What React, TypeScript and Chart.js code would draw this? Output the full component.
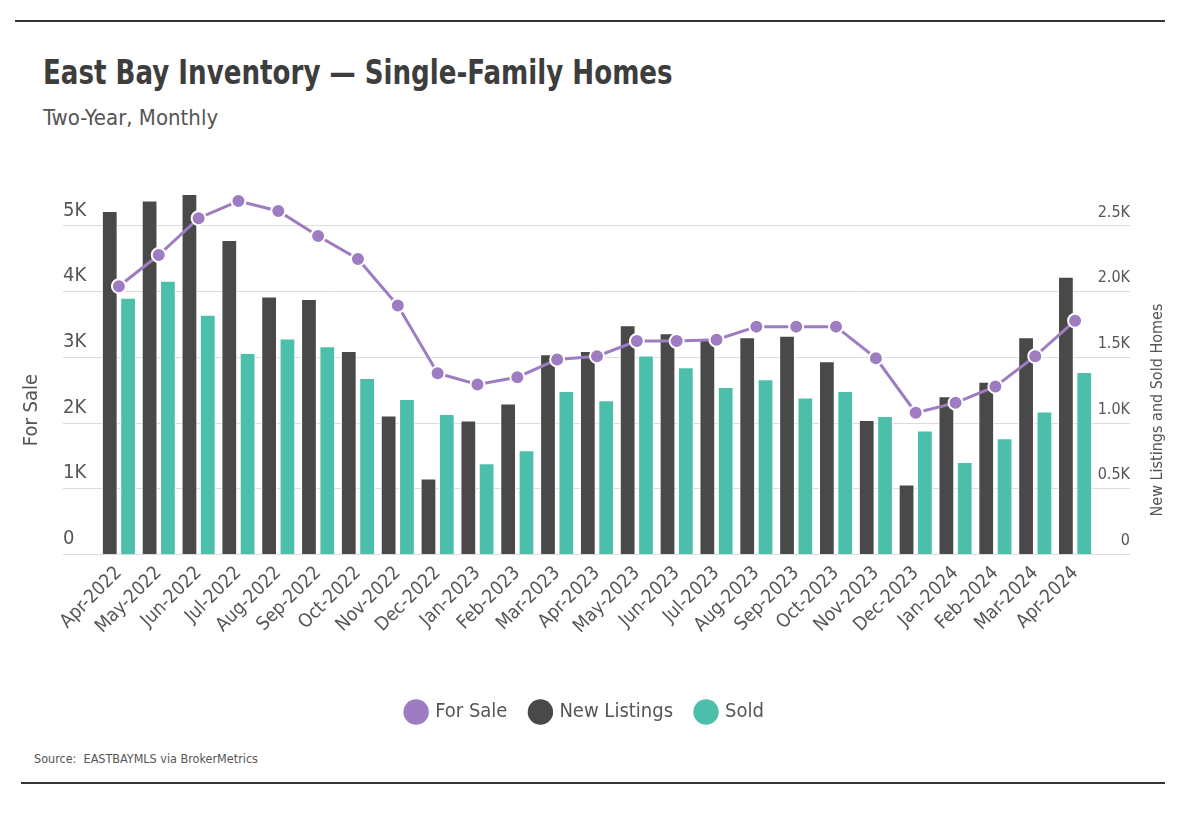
import React, { useEffect, useRef } from "react";
import { Chart, registerables } from "chart.js";

Chart.register(...registerables);

const months = [
  "Apr-2022", "May-2022", "Jun-2022", "Jul-2022", "Aug-2022", "Sep-2022", "Oct-2022", "Nov-2022", "Dec-2022",
  "Jan-2023", "Feb-2023", "Mar-2023", "Apr-2023", "May-2023", "Jun-2023", "Jul-2023", "Aug-2023", "Sep-2023",
  "Oct-2023", "Nov-2023", "Dec-2023", "Jan-2024", "Feb-2024", "Mar-2024", "Apr-2024",
];

const forSale = [4075, 4550, 5110, 5370, 5220, 4840, 4490, 3780, 2750, 2580, 2690, 2960, 3010, 3240, 3240, 3260, 3460, 3460, 3460, 2980, 2150, 2300, 2550, 3010, 3550];
const newListings = [2610, 2690, 2740, 2390, 1960, 1940, 1545, 1054, 574, 1016, 1146, 1520, 1545, 1740, 1680, 1630, 1650, 1660, 1466, 1020, 528, 1200, 1310, 1650, 2110];
const sold = [1950, 2080, 1820, 1530, 1640, 1580, 1340, 1180, 1065, 690, 790, 1240, 1170, 1510, 1420, 1270, 1330, 1190, 1240, 1050, 940, 700, 880, 1085, 1385];

const leftTicks = [0, 1000, 2000, 3000, 4000, 5000];
const rightTicks = [0, 500, 1000, 1500, 2000, 2500];

const leftTitle = "For Sale";
const rightTitle = "New Listings and Sold Homes";

const FONT = "'DejaVu Sans Condensed', 'Liberation Sans Narrow', Roboto, sans-serif";
const PURPLE = "#9e7cc1";
const DARK = "#494949";
const TEAL = "#4cbfab";
const GRID = "#dcdcdc";
const TEXT = "#555555";

const extrasPlugin = {
  id: "extras",
  afterLayout(chart: any) {
    const lg = chart.legend;
    if (lg) {
      lg.left -= 11;
      lg.right -= 11;
    }
  },
  beforeDatasetsDraw(chart: any) {
    const { ctx } = chart;
    const yL = chart.scales.yL;
    const yR = chart.scales.yR;
    ctx.save();
    ctx.strokeStyle = GRID;
    ctx.lineWidth = 1;
    yL.ticks.forEach((t: any) => {
      const y = Math.round(yL.getPixelForValue(t.value)) + 0.5;
      ctx.beginPath();
      ctx.moveTo(yL.left, y);
      ctx.lineTo(yR.right, y);
      ctx.stroke();
    });
    ctx.restore();
  },
  afterDraw(chart: any) {
    const { ctx, chartArea } = chart;
    const cy = (chartArea.top + chartArea.bottom) / 2 + 40;
    ctx.save();
    ctx.fillStyle = TEXT;
    ctx.textAlign = "center";
    ctx.textBaseline = "middle";
    ctx.font = `20px ${FONT}`;
    ctx.translate(32, cy);
    ctx.rotate(-Math.PI / 2);
    ctx.fillText(leftTitle, 0, 0);
    ctx.restore();
    ctx.save();
    ctx.fillStyle = TEXT;
    ctx.textAlign = "center";
    ctx.textBaseline = "middle";
    ctx.font = `16px ${FONT}`;
    ctx.translate(1158, cy);
    ctx.rotate(-Math.PI / 2);
    ctx.fillText(rightTitle, 0, 0);
    ctx.restore();
  },
};

export default function App() {
  const ref = useRef<HTMLCanvasElement | null>(null);

  useEffect(() => {
    if (!ref.current) return;
    const colors = [PURPLE, DARK, TEAL];
    const chart = new Chart(ref.current, {
      type: "bar",
      data: {
        labels: months,
        datasets: [
          {
            type: "line",
            label: "For Sale",
            data: forSale,
            yAxisID: "yL",
            borderColor: PURPLE,
            backgroundColor: PURPLE,
            borderWidth: 3,
            pointRadius: 7,
            pointBorderWidth: 2,
            pointBorderColor: "#ffffff",
            pointBackgroundColor: PURPLE,
            tension: 0,
          } as any,
          {
            type: "bar",
            label: "New Listings",
            data: newListings,
            yAxisID: "yR",
            backgroundColor: DARK,
            borderColor: "#ffffff",
            borderWidth: 1,
            categoryPercentage: 0.92,
            barPercentage: 0.86,
          },
          {
            type: "bar",
            label: "Sold",
            data: sold,
            yAxisID: "yR",
            backgroundColor: TEAL,
            borderColor: "#ffffff",
            borderWidth: 1,
            categoryPercentage: 0.92,
            barPercentage: 0.86,
          },
        ],
      },
      options: {
        responsive: true,
        maintainAspectRatio: false,
        animation: false,
        layout: { padding: { left: 63, right: 61, top: 36, bottom: 18 } },
        plugins: {
          tooltip: { enabled: false },
          legend: {
            position: "bottom",
            labels: {
              usePointStyle: true,
              pointStyle: "circle",
              boxWidth: 18,
              boxHeight: 18,
              padding: 24,
              color: TEXT,
              font: { family: FONT, size: 20 },
              generateLabels: (c: any) =>
                c.data.datasets.map((ds: any, i: number) => ({
                  text: ds.label,
                  fillStyle: colors[i],
                  strokeStyle: colors[i],
                  lineWidth: 0,
                  pointStyle: "circle",
                  hidden: false,
                  datasetIndex: i,
                  fontColor: TEXT,
                })),
            },
          },
        },
        scales: {
          x: {
            grid: { display: false },
            border: { display: false },
            ticks: {
              autoSkip: false,
              maxRotation: 45,
              minRotation: 45,
              padding: 0,
              color: TEXT,
              font: { family: FONT, size: 19 },
            },
            afterFit: (s: any) => {
              s.height = 124;
            },
          },
          yL: {
            position: "left",
            min: 0,
            max: 5600,
            grid: { display: false },
            border: { display: false },
            afterBuildTicks: (s: any) => {
              s.ticks = leftTicks.map((v) => ({ value: v }));
            },
            ticks: {
              crossAlign: "far",
              labelOffset: -15,
              padding: 0,
              color: TEXT,
              font: { family: FONT, size: 20 },
              callback: (v: any) => (v === 0 ? "0" : `${v / 1000}K`),
            },
            afterFit: (s: any) => {
              s.width = 36;
            },
          },
          yR: {
            position: "right",
            min: 0,
            max: 2800,
            grid: { display: false },
            border: { display: false },
            afterBuildTicks: (s: any) => {
              s.ticks = rightTicks.map((v) => ({ value: v }));
            },
            ticks: {
              crossAlign: "far",
              labelOffset: -13,
              padding: 0,
              color: TEXT,
              font: { family: FONT, size: 16 },
              callback: (v: any) => (v === 0 ? "0" : `${(v / 1000).toFixed(1)}K`),
            },
            afterFit: (s: any) => {
              s.width = 35;
            },
          },
        },
      } as any,
      plugins: [extrasPlugin],
    });
    return () => chart.destroy();
  }, []);

  return (
    <div style={{ position: "fixed", left: 0, top: 0, width: 1191, height: 819, background: "#ffffff", fontFamily: FONT }}>
      <div style={{ position: "absolute", left: 15, top: 20, width: 1150, height: 2, background: "#333333" }} />
      <div
        style={{
          position: "absolute",
          left: 43,
          top: 56,
          fontSize: 33,
          fontWeight: 700,
          color: "#3d3d3d",
          lineHeight: 1,
          whiteSpace: "nowrap",
          transform: "scaleX(0.88)",
          transformOrigin: "left top",
        }}
      >
        East Bay Inventory — Single-Family Homes
      </div>
      <div style={{ position: "absolute", left: 43, top: 107, fontSize: 22, color: TEXT, lineHeight: 1, whiteSpace: "nowrap" }}>
        Two-Year, Monthly
      </div>
      <div style={{ position: "absolute", left: 0, top: 150, width: 1191, height: 600 }}>
        <canvas ref={ref} />
      </div>
      <div style={{ position: "absolute", left: 34, top: 753, fontSize: 12.5, color: TEXT, lineHeight: 1, whiteSpace: "pre" }}>
        {"Source:  EASTBAYMLS via BrokerMetrics"}
      </div>
      <div style={{ position: "absolute", left: 21, top: 782, width: 1144, height: 2, background: "#333333" }} />
    </div>
  );
}
